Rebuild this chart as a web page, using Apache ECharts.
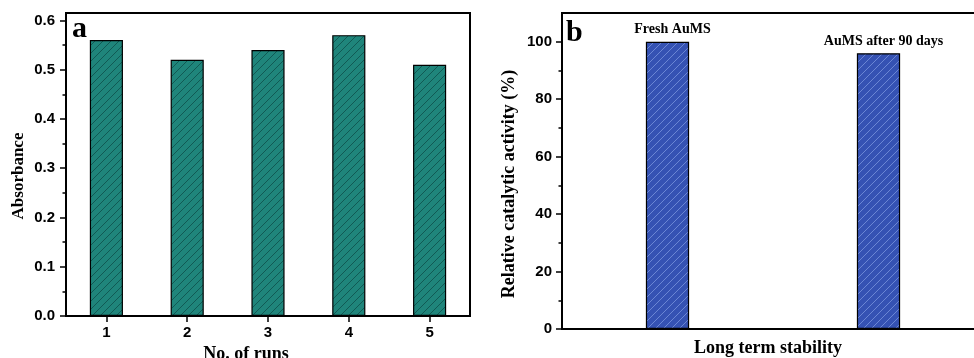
<!DOCTYPE html>
<html>
<head>
<meta charset="utf-8">
<script src="https://cdn.jsdelivr.net/npm/echarts@6/dist/echarts.min.js"></script>
<style>
html,body{margin:0;padding:0;background:#fff;}
#c{width:974px;height:358px;}
</style>
</head>
<body>
<div id="c"></div>
<script>
// Panel a data
const runsA = ['1', '2', '3', '4', '5'];
const absorbanceA = [0.56, 0.52, 0.54, 0.57, 0.51];
const yTicksA = [0, 0.1, 0.2, 0.3, 0.4, 0.5, 0.6];
const yMinorA = [0.05, 0.15, 0.25, 0.35, 0.45, 0.55];
// Panel b data
const samplesB = ['Fresh AuMS', 'AuMS after 90 days'];
const activityB = [100, 96];
const yTicksB = [0, 20, 40, 60, 80, 100];
const yMinorB = [10, 30, 50, 70, 90];

function hatch(base, line) {
  const c = document.createElement('canvas');
  c.width = 8; c.height = 8;
  const g = c.getContext('2d');
  g.fillStyle = base; g.fillRect(0, 0, 8, 8);
  g.strokeStyle = line; g.lineWidth = 1;
  g.beginPath();
  g.moveTo(0, 8); g.lineTo(8, 0);
  g.moveTo(-1, 1); g.lineTo(1, -1);
  g.moveTo(7, 9); g.lineTo(9, 7);
  g.stroke();
  return c;
}

const serif = '"Liberation Serif", "Times New Roman", serif';
const sans = '"Liberation Sans", Arial, sans-serif';

const chart = echarts.init(document.getElementById('c'), null, {renderer: 'canvas'});

const lineStyle = {color: '#000', width: 2};

chart.setOption({
  animation: false,
  backgroundColor: '#fff',
  grid: [
    {left: 66, top: 13, width: 404, height: 303, show: true, borderColor: '#000', borderWidth: 2, backgroundColor: 'transparent', outerBoundsMode: 'none', containLabel: false},
    {left: 562, top: 13, width: 422, height: 316, show: true, borderColor: '#000', borderWidth: 2, backgroundColor: 'transparent', outerBoundsMode: 'none', containLabel: false}
  ],
  xAxis: [
    {
      type: 'category', gridIndex: 0, data: runsA,
      axisLine: {lineStyle: lineStyle},
      axisTick: {show: true, alignWithLabel: true, length: 6, lineStyle: {color: '#000', width: 1.5}},
      axisLabel: {color: '#000', fontFamily: sans, fontWeight: 'bold', fontSize: 15, margin: 9},
      name: 'No. of runs', nameLocation: 'middle', nameGap: 24,
      nameTextStyle: {color: '#000', fontFamily: serif, fontWeight: 'bold', fontSize: 18, padding: [0, 44, 0, 0]}
    },
    {
      type: 'category', gridIndex: 1, data: samplesB,
      axisLine: {lineStyle: lineStyle},
      axisTick: {show: false},
      axisLabel: {show: false},
      name: 'Long term stability', nameLocation: 'middle', nameGap: 10,
      nameTextStyle: {color: '#000', fontFamily: serif, fontWeight: 'bold', fontSize: 18, padding: [0, 10, 0, 0]}
    }
  ],
  yAxis: [
    {
      type: 'value', gridIndex: 0, position: 'left', min: 0, max: 0.615,
      splitLine: {show: false},
      axisLine: {show: true, lineStyle: lineStyle},
      axisTick: {show: true, length: 6, customValues: yTicksA, lineStyle: {color: '#000', width: 1.5}},
      axisLabel: {color: '#000', fontFamily: sans, fontWeight: 'bold', fontSize: 15, margin: 11,
        customValues: yTicksA, formatter: v => v.toFixed(1)},
      name: 'Absorbance', nameLocation: 'middle', nameGap: 39,
      nameTextStyle: {color: '#000', fontFamily: serif, fontWeight: 'bold', fontSize: 17, padding: [0, 23, 0, 0]}
    },
    {
      type: 'value', gridIndex: 0, position: 'left', min: 0, max: 0.615,
      splitLine: {show: false},
      axisLine: {show: false},
      axisTick: {show: true, length: 3.5, customValues: yMinorA, lineStyle: {color: '#000', width: 1.5}},
      axisLabel: {show: false}
    },
    {
      type: 'value', gridIndex: 1, position: 'left', min: 0, max: 110,
      splitLine: {show: false},
      axisLine: {show: true, lineStyle: lineStyle},
      axisTick: {show: true, length: 6, customValues: yTicksB, lineStyle: {color: '#000', width: 1.5}},
      axisLabel: {color: '#000', fontFamily: sans, fontWeight: 'bold', fontSize: 15, margin: 10,
        customValues: yTicksB},
      name: 'Relative catalytic activity (%)', nameLocation: 'middle', nameGap: 44,
      nameTextStyle: {color: '#000', fontFamily: serif, fontWeight: 'bold', fontSize: 18, padding: [0, 26, 0, 0]}
    },
    {
      type: 'value', gridIndex: 1, position: 'left', min: 0, max: 110,
      splitLine: {show: false},
      axisLine: {show: false},
      axisTick: {show: true, length: 3.5, customValues: yMinorB, lineStyle: {color: '#000', width: 1.5}},
      axisLabel: {show: false}
    }
  ],
  series: [
    {
      type: 'bar', xAxisIndex: 0, yAxisIndex: 0, data: absorbanceA, barWidth: '41%',
      itemStyle: {color: {image: hatch('#1f857b', '#115a54'), repeat: 'repeat'}, borderColor: '#000', borderWidth: 1.2}
    },
    {
      type: 'bar', xAxisIndex: 1, yAxisIndex: 2, data: activityB, barWidth: '20.5%',
      itemStyle: {color: {image: hatch('#3552b3', '#6b86d4'), repeat: 'repeat'}, borderColor: '#000', borderWidth: 1.2},
      label: {show: true, position: 'top', distance: 5, formatter: '{b}', color: '#000',
        fontFamily: serif, fontWeight: 'bold', fontSize: 14, offset: [5, 0]}
    }
  ],
  graphic: [
    {type: 'text', left: 72, top: 14, style: {text: 'a', font: 'bold 30px ' + serif, fill: '#000'}},
    {type: 'text', left: 566, top: 18, style: {text: 'b', font: 'bold 30px ' + serif, fill: '#000'}}
  ]
});
</script>
</body>
</html>
